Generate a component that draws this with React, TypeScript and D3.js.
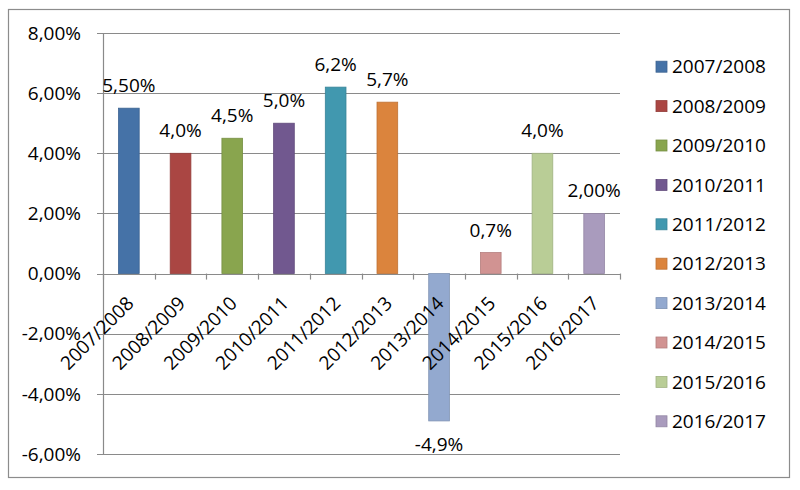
import React, { useEffect, useRef } from "react";
import * as d3 from "d3";

const seasons = [
  "2007/2008",
  "2008/2009",
  "2009/2010",
  "2010/2011",
  "2011/2012",
  "2012/2013",
  "2013/2014",
  "2014/2015",
  "2015/2016",
  "2016/2017",
];
const values = [5.5, 4.0, 4.5, 5.0, 6.2, 5.7, -4.9, 0.7, 4.0, 2.0];
const valueLabels = ["5,50%", "4,0%", "4,5%", "5,0%", "6,2%", "5,7%", "-4,9%", "0,7%", "4,0%", "2,00%"];
const yTicks = [8, 6, 4, 2, 0, -2, -4, -6];
const yTickLabels = ["8,00%", "6,00%", "4,00%", "2,00%", "0,00%", "-2,00%", "-4,00%", "-6,00%"];

const colors = [
  "#4572A7",
  "#AA4643",
  "#89A54E",
  "#71588F",
  "#4198AF",
  "#DB843D",
  "#93A9CF",
  "#D19392",
  "#B9CD96",
  "#A99BBD",
];

const width = 800,
  height = 490;
const plot = { left: 103, right: 620, top: 33, bottom: 454 };
const font = "'Open Sans', sans-serif";
const fontSize = 19;
const gridColor = "#8a8a8a";

export default function App(): JSX.Element {
  const ref = useRef<SVGSVGElement>(null);

  useEffect(() => {
    if (!ref.current) return;
    const svg = d3.select(ref.current);
    svg.selectAll("*").remove();

    const x = d3.scaleBand().domain(seasons).range([plot.left, plot.right]).paddingInner(0.6).paddingOuter(0.3);
    const xStep = d3.scaleBand().domain(seasons).range([plot.left, plot.right]);
    const y = d3.scaleLinear().domain([-6, 8]).range([plot.bottom, plot.top]);

    // outer frame
    svg
      .append("rect")
      .attr("x", 8.5)
      .attr("y", 9.5)
      .attr("width", 781)
      .attr("height", 468)
      .attr("fill", "#fff")
      .attr("stroke", "#8c8c8c")
      .attr("stroke-width", 1.2);

    // gridlines + y labels
    const gy = svg.append("g");
    gy.selectAll("line")
      .data(yTicks)
      .join("line")
      .attr("x1", plot.left - 6)
      .attr("x2", plot.right)
      .attr("y1", (d) => Math.round(y(d)) + 0.5)
      .attr("y2", (d) => Math.round(y(d)) + 0.5)
      .attr("stroke", gridColor)
      .attr("stroke-width", 1.2);
    gy.selectAll("text")
      .data(yTicks)
      .join("text")
      .attr("x", 81)
      .attr("y", (d) => y(d))
      .attr("dy", "0.35em")
      .attr("text-anchor", "end")
      .attr("font-family", font)
      .attr("font-size", fontSize)
      .attr("fill", "#000")
      .text((d, i) => yTickLabels[i]);

    // y axis line
    svg
      .append("line")
      .attr("x1", plot.left + 0.5)
      .attr("x2", plot.left + 0.5)
      .attr("y1", plot.top)
      .attr("y2", plot.bottom)
      .attr("stroke", gridColor)
      .attr("stroke-width", 1.2);

    // bars
    svg
      .append("g")
      .selectAll("rect")
      .data(values)
      .join("rect")
      .attr("x", (d, i) => x(seasons[i]) as number)
      .attr("width", x.bandwidth())
      .attr("y", (d) => y(Math.max(0, d)))
      .attr("height", (d) => Math.abs(y(d) - y(0)))
      .attr("fill", (d, i) => colors[i])
      .attr("stroke", (d, i) => d3.color(colors[i])!.darker(0.4).formatHex())
      .attr("stroke-width", 0.8);

    // x axis ticks at category boundaries
    const bounds = seasons.map((s) => xStep(s) as number).concat([plot.right]);
    svg
      .append("g")
      .selectAll("line")
      .data(bounds)
      .join("line")
      .attr("x1", (d) => Math.round(d) + 0.5)
      .attr("x2", (d) => Math.round(d) + 0.5)
      .attr("y1", y(0))
      .attr("y2", y(0) + 6)
      .attr("stroke", gridColor)
      .attr("stroke-width", 1.2);

    // x labels
    svg
      .append("g")
      .selectAll("text")
      .data(seasons)
      .join("text")
      .attr(
        "transform",
        (d) => `translate(${(xStep(d) as number) + xStep.bandwidth() / 2 + 6},${y(0) + 31}) rotate(-45)`
      )
      .attr("text-anchor", "end")
      .attr("font-family", font)
      .attr("font-size", fontSize)
      .attr("fill", "#000")
      .text((d) => d);

    // value labels
    svg
      .append("g")
      .selectAll("text")
      .data(values)
      .join("text")
      .attr("x", (d, i) => (xStep(seasons[i]) as number) + xStep.bandwidth() / 2)
      .attr("y", (d) => (d >= 0 ? y(d) - 16 : y(d) + 30))
      .attr("text-anchor", "middle")
      .attr("font-family", font)
      .attr("font-size", fontSize)
      .attr("fill", "#000")
      .text((d, i) => valueLabels[i]);

    // legend
    const legend = svg
      .append("g")
      .selectAll("g")
      .data(seasons)
      .join("g")
      .attr("transform", (d, i) => `translate(656, ${66.7 + i * 39.4})`);
    legend
      .append("rect")
      .attr("x", 0)
      .attr("y", -5.5)
      .attr("width", 11)
      .attr("height", 11)
      .attr("fill", (d, i) => colors[i])
      .attr("stroke", (d, i) => d3.color(colors[i])!.darker(0.4).formatHex())
      .attr("stroke-width", 0.8);
    legend
      .append("text")
      .attr("x", 16)
      .attr("dy", "0.35em")
      .attr("font-family", font)
      .attr("font-size", fontSize)
      .attr("fill", "#000")
      .text((d) => d);
  }, []);

  return (
    <svg
      ref={ref}
      width={width}
      height={height}
      style={{ position: "absolute", left: 0, top: 0, background: "#fff" }}
    />
  );
}
